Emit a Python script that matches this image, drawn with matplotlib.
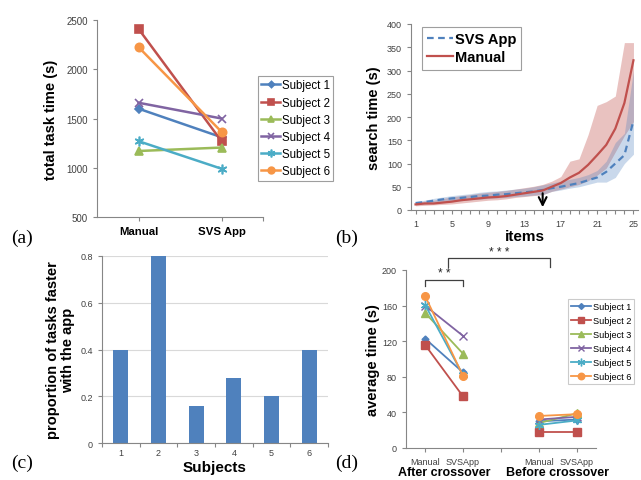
import numpy as np
import matplotlib.pyplot as plt

plt.rcParams['font.family'] = ['Liberation Sans', 'DejaVu Sans']

W, H = 641, 481

# ---- data ----
subjects = ['Subject 1', 'Subject 2', 'Subject 3', 'Subject 4', 'Subject 5', 'Subject 6']
conds_a = ['Manual', 'SVS App']
total_manual = [1600, 2410, 1170, 1660, 1270, 2225]
total_app = [1310, 1270, 1205, 1500, 990, 1365]

items = list(range(1, 26))
manual_mean = [12, 14, 14, 16, 18, 21, 23, 25, 27, 28, 30, 33, 36, 39, 42,
               50, 58, 70, 80, 97, 118, 140, 175, 230, 322]
manual_hi = [16, 19, 21, 25, 28, 31, 33, 36, 38, 40, 42, 45, 48, 51, 55,
             62, 72, 105, 110, 162, 225, 233, 245, 360, 360]
manual_lo = [9, 10, 11, 12, 13, 15, 17, 19, 21, 22, 24, 27, 29, 31, 33,
             40, 45, 50, 55, 63, 75, 90, 125, 160, 190]
app_mean = [15, 17, 20, 23, 25, 26, 28, 30, 31, 33, 34, 36, 38, 40, 43,
            47, 50, 54, 58, 64, 70, 82, 100, 118, 192]
app_hi = [18, 21, 25, 28, 31, 33, 35, 38, 40, 41, 43, 45, 47, 50, 54,
          58, 62, 66, 70, 76, 85, 105, 145, 165, 300]
app_lo = [12, 13, 15, 17, 19, 20, 22, 23, 25, 26, 27, 29, 30, 32, 33,
          40, 43, 47, 50, 55, 60, 60, 70, 100, 120]

prop_faster = [0.4, 0.8, 0.16, 0.28, 0.2, 0.4]

after_manual = [123, 116, 152, 160, 161, 171]
after_app = [85, 58, 106, 126, 82, 81]
before_manual = [30, 18, 28, 32, 26, 36]
before_app = [32, 18, 39, 35, 31, 38]
d_ticks = ['Manual', 'SVSApp', '', 'Manual', 'SVSApp']

colors = ['#4F81BD', '#C0504D', '#9BBB59', '#8064A2', '#4BACC6', '#F79646']
markers = ['D', 's', '^', 'x', (6, 2, 0), 'o']
msizes = [4, 6, 6, 6, 7, 6]

spine_c = '#868686'
text_c = '#404040'


def add_ax(fig, left, top, right, bottom):
    return fig.add_axes([left / W, 1 - bottom / H, (right - left) / W, (bottom - top) / H])


def style(ax):
    for s in ['top', 'right']:
        ax.spines[s].set_visible(False)
    for s in ['left', 'bottom']:
        ax.spines[s].set_color(spine_c)
        ax.spines[s].set_linewidth(0.8)
    ax.tick_params(colors=spine_c, labelcolor=text_c, length=3, width=0.8)
    ax.tick_params(which='minor', colors=spine_c, length=3, width=0.8)


fig = plt.figure(figsize=(W / 100, H / 100), dpi=100)

# ---- (a) ----
ax = add_ax(fig, 97, 21, 263, 218)
style(ax)
handles = []
for i in range(6):
    h, = ax.plot([0, 1], [total_manual[i], total_app[i]], color=colors[i], lw=1.8,
                 marker=markers[i], ms=msizes[i], mew=1.2, label=subjects[i])
    handles.append(h)
ax.set_xlim(-0.5, 1.5)
ax.set_ylim(500, 2500)
ax.set_yticks(range(500, 2501, 500))
ax.set_xticks([0, 1])
ax.set_xticks([1.5], minor=True)
ax.set_xticklabels(conds_a, fontweight='bold', fontsize=8.2, color='black')
ax.tick_params(axis='y', labelsize=7)
ax.set_ylabel('total task time (s)', fontweight='bold', fontsize=10.5, labelpad=6)
leg = fig.legend(handles=handles, loc='upper left', bbox_to_anchor=(258 / W, 1 - 77 / H),
                 fontsize=8.3, frameon=True, fancybox=False, edgecolor=spine_c,
                 handlelength=1.6, handletextpad=0.15, borderpad=0.3, labelspacing=0.45,
                 borderaxespad=0, markerscale=0.8)
leg.get_frame().set_linewidth(0.8)

# ---- (b) ----
ax = add_ax(fig, 411, 25, 638, 211)
style(ax)
ax.fill_between(items, manual_lo, manual_hi, color='#C0504D', alpha=0.35, lw=0)
ax.fill_between(items, app_lo, app_hi, color='#4F81BD', alpha=0.3, lw=0)
l1, = ax.plot(items, app_mean, color='#4F81BD', lw=1.6, ls=(0, (3, 2)), label='SVS App')
l2, = ax.plot(items, manual_mean, color='#C0504D', lw=1.6, label='Manual')
ax.annotate('', xy=(15, 0), xytext=(15, manual_mean[14]),
            arrowprops=dict(arrowstyle='->', color='black', lw=1.5, mutation_scale=14))
ax.set_xlim(0.5, 25.5)
ax.set_ylim(0, 400)
ax.set_xticks(range(1, 26, 4))
ax.set_xticks(range(1, 26), minor=True)
ax.set_yticks(range(0, 401, 50))
ax.tick_params(labelsize=6.5)
ax.set_xlabel('items', fontweight='bold', fontsize=11, labelpad=1)
ax.set_ylabel('search time (s)', fontweight='bold', fontsize=10.5, labelpad=4)
leg = ax.legend(handles=[l1, l2], loc='upper left', bbox_to_anchor=(422 / W, 1 - 28 / H),
                bbox_transform=fig.transFigure, prop={'weight': 'bold', 'size': 10.5},
                frameon=True, fancybox=False, edgecolor=spine_c, handlelength=1.8,
                handletextpad=0.1, borderpad=0.35, labelspacing=0.3, borderaxespad=0)
leg.get_frame().set_linewidth(0.8)

# ---- (c) ----
ax = add_ax(fig, 102, 257, 328, 444)
style(ax)
xs = np.arange(1, 7)
ax.grid(axis='y', color='#D9D9D9', lw=0.8)
ax.set_axisbelow(True)
ax.bar(xs, prop_faster, width=0.4, color='#4F81BD')
ax.set_xlim(0.5, 6.5)
ax.set_ylim(0, 0.8)
ax.set_yticks([0, 0.2, 0.4, 0.6, 0.8])
ax.set_yticklabels(['0', '0.2', '0.4', '0.6', '0.8'])
ax.set_xticks(xs)
ax.set_xticks(np.arange(0.5, 6.6, 1), minor=True)
ax.tick_params(axis='x', which='major', length=0)
ax.tick_params(labelsize=6.5)
ax.set_xlabel('Subjects', fontweight='bold', fontsize=11, labelpad=2)
ax.set_ylabel('proportion of tasks faster\nwith the app', fontweight='bold',
              fontsize=10.5, labelpad=4, linespacing=1.1)

# ---- (d) ----
ax = add_ax(fig, 406, 271, 596, 449)
style(ax)
handles = []
for i in range(6):
    h, = ax.plot([0, 1], [after_manual[i], after_app[i]], color=colors[i], lw=1.3,
                 marker=markers[i], ms=msizes[i] - 0.5, mew=1.0, label=subjects[i])
    ax.plot([3, 4], [before_manual[i], before_app[i]], color=colors[i], lw=1.3,
            marker=markers[i], ms=msizes[i] - 0.5, mew=1.0)
    handles.append(h)
ax.set_xlim(-0.5, 4.5)
ax.set_ylim(0, 200)
ax.set_yticks(range(0, 201, 40))
ax.set_xticks(range(5))
ax.set_xticklabels(d_ticks)
ax.tick_params(labelsize=6.5)
ax.set_ylabel('average time (s)', fontweight='bold', fontsize=10.5, labelpad=1)
ax.text(0.5, -0.135, 'After crossover', transform=ax.get_xaxis_transform(),
        ha='center', va='center', fontweight='bold', fontsize=9)
ax.text(3.5, -0.135, 'Before crossover', transform=ax.get_xaxis_transform(),
        ha='center', va='center', fontweight='bold', fontsize=9)
# significance brackets
bc = '#404040'
ax.plot([0, 0, 1, 1], [182, 189, 189, 182], color=bc, lw=0.9, clip_on=False)
ax.text(0.5, 190, '* *', ha='center', va='bottom', fontsize=8.5, color='#262626')
ax.plot([0.6, 0.6, 3.3, 3.3], [203, 213, 213, 203], color=bc, lw=0.9, clip_on=False)
ax.text(1.95, 214, '* * *', ha='center', va='bottom', fontsize=8.5, color='#262626')
leg = fig.legend(handles=handles, loc='upper left', bbox_to_anchor=(568 / W, 1 - 300 / H),
                 fontsize=6.6, frameon=True, fancybox=False, edgecolor='#BFBFBF',
                 handlelength=2.2, handletextpad=0.2, borderpad=0.3, labelspacing=0.55,
                 borderaxespad=0, markerscale=0.85)
leg.get_frame().set_linewidth(0.8)

# panel labels
for lab, x, y in [('(a)', 22, 238), ('(b)', 347, 238), ('(c)', 22, 463), ('(d)', 347, 463)]:
    fig.text(x / W, 1 - y / H, lab, family='Liberation Serif', fontsize=14,
             ha='center', va='center')

fig.savefig('out.png', dpi=100)
